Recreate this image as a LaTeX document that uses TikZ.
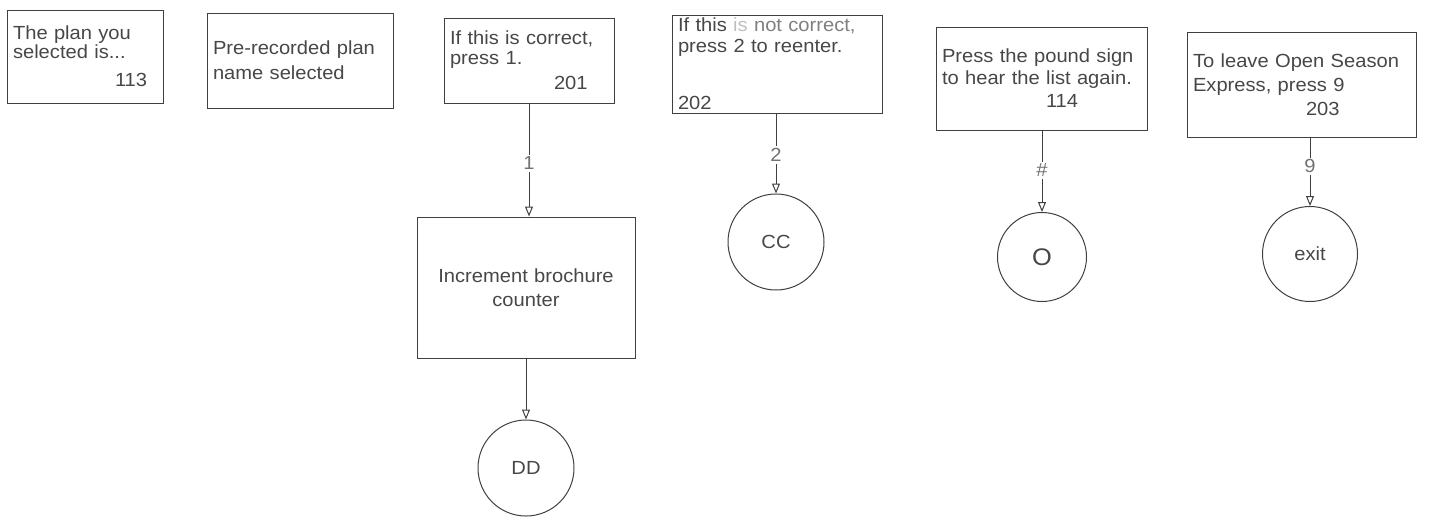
\documentclass[tikz,border=0pt]{standalone}
\usepackage{fontspec}
\setmainfont[FakeStretch=1.06]{Liberation Sans}
\usetikzlibrary{arrows.meta}
\begin{document}
\begin{tikzpicture}[x=0.5pt,y=-0.5pt,
  box/.style={draw=black!75, line width=0.5pt, rectangle, inner xsep=3pt, inner ysep=1pt,
    align=left, text=black!72, font=\fontsize{9.5}{11}\selectfont},
  circ/.style={draw=black!75, circle, line width=0.5pt, inner sep=0pt, text=black!72,
    font=\fontsize{9.5}{11}\selectfont},
  conn/.style={draw=black!75, line width=0.5pt, -{Triangle[open,length=5pt,width=4pt]}},
  elabel/.style={fill=white, inner sep=1pt, text=black!55, font=\fontsize{9.5}{11}\selectfont}]
\useasboundingbox (0,0) rectangle (1434,521);

\node[box, minimum height=46.5pt, text width=72pt] (b113) at (85,56.5)
  {The plan you\\[-1.5pt]selected is...\\[3pt]\hspace*{51pt}113};
\node[box, minimum height=47.5pt, text width=87pt] (bpre) at (300,60.5)
  {Pre-recorded plan\\[1.5pt]name selected};
\node[box, minimum height=42.5pt, text width=79pt] (b201) at (529,60.5)
  {If this is correct,\\[-1pt]press 1.\\[1.5pt]\hspace*{52pt}201};
\node[box, minimum height=49pt, text width=99pt] (b202) at (777,64)
  {If this \textcolor{black!25}{is} \textcolor{black!50}{not correct,}\\[-0.5pt]press 2 to reenter.\\[17.5pt]202};
\node[box, minimum height=51.5pt, text width=99.5pt] (b114) at (1041.5,78.5)
  {Press the pound sign\\to hear the list again.\\[0.5pt]\hspace*{52pt}114};
\node[box, minimum height=52.5pt, text width=108.5pt] (b203) at (1301.5,84.5)
  {To leave Open Season\\[1pt]Express, press 9\\[1pt]\hspace*{56.5pt}203};

\node[box, minimum height=70.5pt, text width=103pt, align=center] (inc) at (526,287.5)
  {Increment brochure\\[1pt]counter};

\node[circ, minimum size=48pt] (dd) at (526,468) {DD};
\node[circ, minimum size=48pt] (cc) at (776,242) {CC};
\node[circ, minimum size=44.5pt, font=\fontsize{12}{14}\selectfont] (o) at (1042,257) {O};
\node[circ, minimum size=47.5pt] (ex) at (1310,254) {exit};

\draw[conn] (b201.south) -- node[elabel, pos=0.53] {1} (b201.south |- inc.north);
\draw[conn] (inc.south) -- (dd.north);
\draw[conn] (cc |- b202.south) -- node[elabel, pos=0.52] {2} (cc.north);
\draw[conn] (o |- b114.south) -- node[elabel, pos=0.49] {\#} (o.north);
\draw[conn] (ex |- b203.south) -- node[elabel, pos=0.42] {9} (ex.north);
\end{tikzpicture}
\end{document}
